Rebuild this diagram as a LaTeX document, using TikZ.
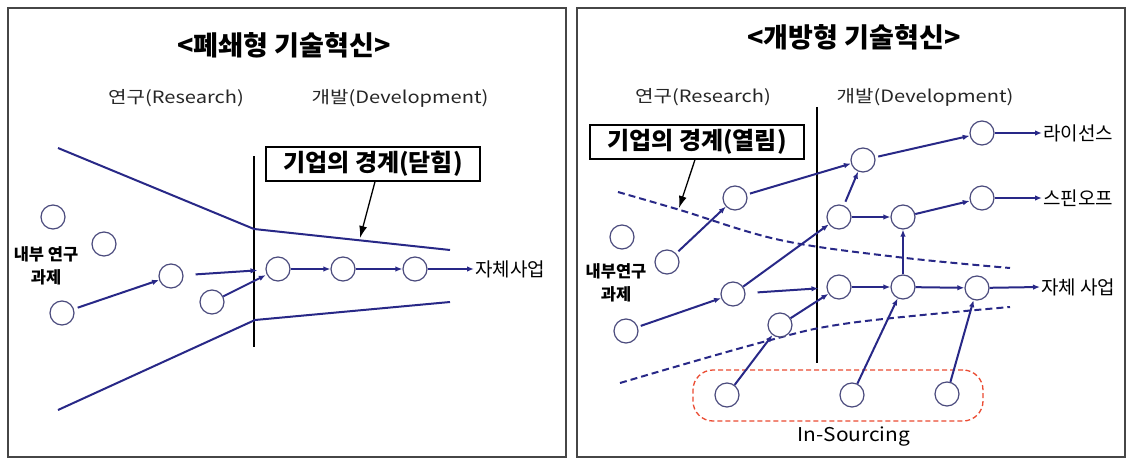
\documentclass[tikz,border=0pt]{standalone}
\usepackage{fontspec}
\usepackage{graphicx}
\setmainfont{Noto Sans CJK KR}
\usetikzlibrary{arrows.meta}
\definecolor{navy}{RGB}{40,40,135}
\definecolor{circline}{RGB}{75,75,125}
\definecolor{insrc}{RGB}{235,75,50}
\definecolor{framec}{RGB}{70,70,70}
\newcommand{\wide}[1]{\scalebox{1.18}[1]{#1}}
\tikzset{
 circ/.style={circle, draw=circline, line width=1.2pt, fill=white, minimum size=24pt, inner sep=0pt},
 arr/.style={draw=navy, line width=2pt, -{Latex[length=7pt,width=5.5pt]}},
 bound/.style={draw=navy, line width=2pt},
 dbound/.style={draw=navy, line width=2pt, dash pattern=on 7pt off 4pt},
 ttl/.style={font=\bfseries\fontsize{27}{31}\selectfont},
 phase/.style={font=\fontsize{17}{20}\selectfont, text=black!85},
 lbox/.style={draw=black, line width=1.3pt, fill=white, font=\bfseries\fontsize{24}{28}\selectfont, inner xsep=3pt, inner ysep=1pt, minimum height=34pt, minimum width=214pt},
 outl/.style={font=\fontsize{19}{22}\selectfont, anchor=west, inner sep=1pt},
 intl/.style={font=\bfseries\fontsize{16.5}{23}\selectfont, align=center},
 pointer/.style={draw=black, line width=1.3pt, -{Latex[length=12pt,width=8pt]}},
 panel/.style={draw=framec, line width=2pt},
 vline/.style={draw=black, line width=1.2pt},
 insbox/.style={draw=insrc, line width=1.3pt, dash pattern=on 5pt off 3pt, rounded corners=20pt},
}
\begin{document}
\begin{tikzpicture}[x=1pt,y=-1pt]
\useasboundingbox (0,0) rectangle (1128,460);
\fill[white] (0,0) rectangle (1128,460);
% panels
\draw[panel] (8,8) rectangle (566,457);
\draw[panel] (577,8) rectangle (1125,457);

% ================= LEFT PANEL =================
\node[ttl] (t1) at (284,45) {<폐쇄형 기술혁신>};
\node[phase] (r1) at (176,98) {\wide{연구(Research)}};
\node[phase] (d1l) at (400,98) {\wide{개발(Development)}};

\coordinate (v1t) at (254,156);
\coordinate (v1b) at (254,347);
\draw[vline] (v1t) -- (v1b);

\coordinate (u1) at (58,148);
\coordinate (u2) at (254,229);
\coordinate (u3) at (450,250);
\coordinate (l1) at (58,410);
\coordinate (l2) at (255,320);
\coordinate (l3) at (450,302);
\draw[bound] (u1) -- (u2) -- (u3);
\draw[bound] (l1) -- (l2) -- (l3);

\node[lbox] (lb1) at (373,164) {기업의 경계(닫힘)};
\coordinate (lt1) at (360,238);
\draw[pointer] ([xshift=2pt]lb1.south) -- (lt1);

\node[circ] (a1) at (53,217) {};
\node[circ] (a2) at (104,244) {};
\node[circ] (a3) at (62,313) {};
\node[circ] (a4) at (171,276) {};
\node[circ] (a5) at (212,302) {};
\node[circ] (b1) at (278,269) {};
\node[circ] (b2) at (343,269) {};
\node[circ] (b3) at (415,269) {};
\node[intl] (in1) at (46,266) {내부 연구\\과제};
\node[outl] (o1) at (474,269) {자체사업};

\draw[arr, shorten <=4pt] (a3) -- (a4);
\draw[arr, shorten <=12pt, shorten >=8pt] (a4) -- (b1);
\draw[arr, shorten >=1pt] (a5) -- (b1);
\draw[arr] (b1) -- (b2);
\draw[arr] (b2) -- (b3);
\draw[arr] (b3) -- (o1.west);

% ================= RIGHT PANEL =================
\node[ttl] (t2) at (854,37) {<개방형 기술혁신>};
\node[phase] (r2) at (703,97) {\wide{연구(Research)}};
\node[phase] (d2l) at (925,97) {\wide{개발(Development)}};

\coordinate (v2t) at (817,107);
\coordinate (v2b) at (817,363);
\draw[vline] (v2t) -- (v2b);

\draw[dbound] plot[smooth, tension=0.6] coordinates {(618,192) (680,210) (780,240) (897,257) (1010,268)};
\draw[dbound] plot[smooth, tension=0.6] coordinates {(620,383) (763,342) (850,323) (1010,307)};

\node[lbox] (lb2) at (697,142) {기업의 경계(열림)};
\coordinate (lt2) at (679,208);
\draw[pointer] ([xshift=-2pt]lb2.south) -- (lt2);

\node[insbox, minimum width=290pt, minimum height=51pt] (ins) at (838,395.5) {};
\node[font=\fontsize{19}{22}\selectfont] (insl) at (854,437) {\scalebox{1.1}[1]{In-Sourcing}};

\node[circ] (ca) at (622,237) {};
\node[circ] (cb) at (667,262) {};
\node[circ] (cc) at (735,198) {};
\node[circ] (cd) at (733,294) {};
\node[circ] (ce) at (626,331) {};
\node[circ] (cf) at (780,325) {};
\node[circ] (dd1) at (863,160) {};
\node[circ] (dd2) at (839,217) {};
\node[circ] (dd3) at (839,287) {};
\node[circ] (e1) at (982,133) {};
\node[circ] (e2) at (903,217) {};
\node[circ] (e3) at (903,287) {};
\node[circ] (f1) at (982,198) {};
\node[circ] (g) at (977,288) {};
\node[circ] (h1) at (727,395) {};
\node[circ] (h2) at (852,395) {};
\node[circ] (h3) at (947,394) {};

\node[intl] (in2) at (616,283) {내부연구\\과제};
\node[outl] (o2) at (1042,133) {라이선스};
\node[outl] (o3) at (1042,198) {스핀오프};
\node[outl] (o4) at (1040,287) {자체 사업};

\draw[arr, shorten <=3pt] (cb) -- (cc);
\draw[arr, shorten <=3pt] (cc) -- (dd1);
\draw[arr, shorten <=4pt] (dd2) -- (dd1);
\draw[arr, shorten <=3pt] (dd1) -- (e1);
\draw[arr] (e1) -- (o2.west);
\draw[arr] (dd2) -- (e2);
\draw[arr] (e2) -- (f1);
\draw[arr] (f1) -- (o3.west);
\draw[arr, shorten <=3pt] (ce) -- (cd);
\draw[arr] (cd) -- (dd2);
\draw[arr, shorten <=12pt, shorten >=8pt] (cd) -- (dd3);
\draw[arr] (cf) -- (dd3);
\draw[arr] (h1) -- (cf);
\draw[arr] (dd3) -- (e3);
\draw[arr] (e3) -- (g);
\draw[arr] (g) -- (o4.west);
\draw[arr] (e3) -- (e2);
\draw[arr] (h2) -- (e3);
\draw[arr] (h3) -- (g);
\end{tikzpicture}
\end{document}
